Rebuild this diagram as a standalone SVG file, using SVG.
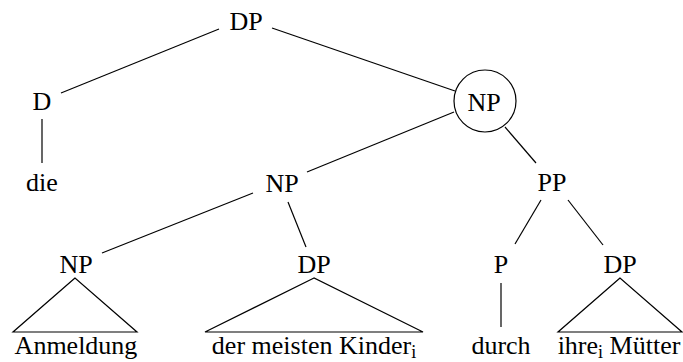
<svg xmlns="http://www.w3.org/2000/svg" width="683" height="362" viewBox="0 0 683 362">
<style>
text{font-family:"Liberation Serif",Tinos,"Times New Roman",Times,"Nimbus Roman","Nimbus Roman No9 L","FreeSerif","Noto Serif","DejaVu Serif",serif;font-size:26px;fill:#000;text-anchor:middle}
.sub{font-size:18px}
line,polygon,circle{stroke:#000;stroke-width:1.2;fill:none}
</style>
<rect width="683" height="362" fill="#fff"/>
<g id="connectors">
<line x1="219" y1="29" x2="61" y2="93"/>
<line x1="272" y1="28" x2="455" y2="91"/>
<line x1="42" y1="119" x2="42" y2="163"/>
<line x1="454" y1="112" x2="307" y2="172"/>
<line x1="505" y1="127" x2="536" y2="163"/>
<line x1="253" y1="193" x2="102" y2="253"/>
<line x1="288" y1="202" x2="306" y2="247"/>
<line x1="541" y1="200" x2="515" y2="244"/>
<line x1="568" y1="200" x2="603" y2="245"/>
<line x1="501" y1="283" x2="501" y2="327"/>
</g>
<g id="n-dp-root"><text x="246" y="30">DP</text></g>
<g id="n-d"><text x="42" y="110">D</text></g>
<g id="n-die"><text x="42" y="191">die</text></g>
<g id="n-np-circle"><circle cx="485" cy="101" r="31"/><text x="484" y="111">NP</text></g>
<g id="n-np-mid"><text x="282" y="192">NP</text></g>
<g id="n-pp"><text x="552" y="191">PP</text></g>
<g id="n-np-low"><text x="76" y="273">NP</text><polygon points="75,278 13,332 137,332"/></g>
<g id="n-anmeldung"><text x="76" y="354">Anmeldung</text></g>
<g id="n-dp-mid"><text x="314" y="273">DP</text><polygon points="314,278 205,332 423,332"/></g>
<g id="n-kinder"><text x="314" y="354">der meisten Kinder<tspan class="sub" dy="4">i</tspan></text></g>
<g id="n-p"><text x="501" y="273">P</text></g>
<g id="n-durch"><text x="501" y="354">durch</text></g>
<g id="n-dp-right"><text x="620" y="273">DP</text><polygon points="620,278 558,332 682,332"/></g>
<g id="n-muetter"><text x="619" y="354">ihre<tspan class="sub" dy="4">i</tspan><tspan dy="-4"> Mütter</tspan></text></g>
</svg>
